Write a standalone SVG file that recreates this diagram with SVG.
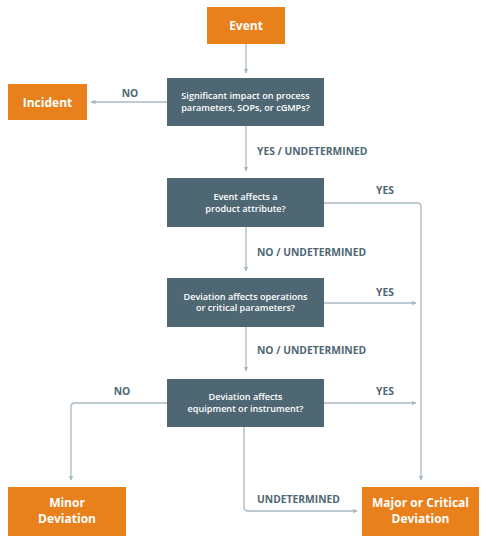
<svg xmlns="http://www.w3.org/2000/svg" width="486" height="541" viewBox="0 0 486 541">
<defs>
<marker id="ah" viewBox="0 0 10 10" refX="9" refY="5" markerWidth="5" markerHeight="5" orient="auto" markerUnits="userSpaceOnUse">
<path d="M0,0 L10,5 L0,10 Z" fill="#a9bac4"/>
</marker>
<style>
.term{fill:#e8801c}
.dec{fill:#4e6773}
.tt{font-family:"Open Sans","Liberation Sans",sans-serif;font-weight:700;font-size:12px;fill:#ffffff;text-anchor:middle}
.dt{font-family:"Open Sans","Liberation Sans",sans-serif;font-weight:600;font-size:9.1px;fill:#ffffff;text-anchor:middle}
.lbl{font-family:"Open Sans","Liberation Sans",sans-serif;font-weight:700;font-size:10.3px;fill:#4e6773}
.ln{fill:none;stroke:#a9bac4;stroke-width:1.3;marker-end:url(#ah)}
</style>
</defs>
<rect width="486" height="541" fill="#ffffff"/>
<g id="connectors">
<path class="ln" d="M246,44 V73"/>
<path class="ln" d="M167,102 H91"/>
<path class="ln" d="M246,126 V171"/>
<path class="ln" d="M324,203 H417 Q421,203 421,207 V480"/>
<path class="ln" d="M246,227 V271"/>
<path class="ln" d="M324,303 H416"/>
<path class="ln" d="M246,327 V371"/>
<path class="ln" d="M324,403 H416"/>
<path class="ln" d="M167,403 H75 Q71,403 71,407 V480"/>
<path class="ln" d="M244,427 V507 Q244,511 248,511 H357"/>
</g>
<g id="labels">
<text class="lbl" x="130" y="97" text-anchor="middle">NO</text>
<text class="lbl" x="257" y="155">YES / UNDETERMINED</text>
<text class="lbl" x="385" y="194" text-anchor="middle">YES</text>
<text class="lbl" x="257" y="256">NO / UNDETERMINED</text>
<text class="lbl" x="385" y="296" text-anchor="middle">YES</text>
<text class="lbl" x="257" y="354">NO / UNDETERMINED</text>
<text class="lbl" x="122" y="395" text-anchor="middle">NO</text>
<text class="lbl" x="385" y="395" text-anchor="middle">YES</text>
<text class="lbl" x="257" y="503">UNDETERMINED</text>
</g>
<g id="event">
<rect class="term" x="207" y="7" width="78" height="37"/>
<text class="tt" x="246" y="29.5">Event</text>
</g>
<g id="incident">
<rect class="term" x="8" y="84" width="79" height="36"/>
<text class="tt" x="47.5" y="106.5">Incident</text>
</g>
<g id="q1">
<rect class="dec" x="167" y="78" width="157" height="48"/>
<text class="dt" x="245.5" y="99.4">Significant impact on process</text>
<text class="dt" x="245.5" y="111.2">parameters, SOPs, or cGMPs?</text>
</g>
<g id="q2">
<rect class="dec" x="167" y="178" width="157" height="49"/>
<text class="dt" x="245.5" y="199.9">Event affects a</text>
<text class="dt" x="245.5" y="211.7">product attribute?</text>
</g>
<g id="q3">
<rect class="dec" x="167" y="278" width="157" height="49"/>
<text class="dt" x="245.5" y="299.5">Deviation affects operations</text>
<text class="dt" x="245.5" y="311.3">or critical parameters?</text>
</g>
<g id="q4">
<rect class="dec" x="167" y="379" width="157" height="48"/>
<text class="dt" x="245.5" y="399.9">Deviation affects</text>
<text class="dt" x="245.5" y="411.7">equipment or instrument?</text>
</g>
<g id="minor">
<rect class="term" x="8" y="487" width="118" height="49"/>
<text class="tt" x="67" y="507.2">Minor</text>
<text class="tt" x="67" y="523">Deviation</text>
</g>
<g id="major">
<rect class="term" x="362" y="487" width="117" height="49"/>
<text class="tt" x="420.5" y="507.2">Major or Critical</text>
<text class="tt" x="420.5" y="523">Deviation</text>
</g>
</svg>
